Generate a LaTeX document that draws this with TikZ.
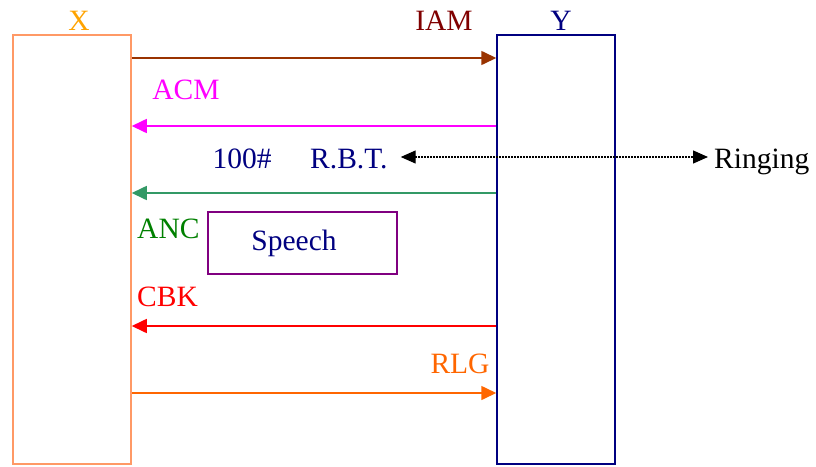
\documentclass[tikz,border=0pt]{standalone}
\usepackage{fontspec}
\setmainfont{Liberation Serif}
\usetikzlibrary{arrows.meta}
\definecolor{xorange}{RGB}{255,163,0}
\definecolor{xbox}{RGB}{255,153,102}
\definecolor{iamtext}{RGB}{128,0,0}
\definecolor{iamarrow}{RGB}{153,51,0}
\definecolor{acm}{RGB}{255,0,255}
\definecolor{navy}{RGB}{0,0,128}
\definecolor{seagreen}{RGB}{51,153,102}
\definecolor{ancgreen}{RGB}{0,128,0}
\definecolor{purp}{RGB}{128,0,128}
\definecolor{rlg}{RGB}{255,102,0}
\tikzset{
  lbl/.style={inner sep=0pt, font=\fontsize{29.5}{34}\selectfont},
  entity/.style={draw, line width=1.5pt, minimum width=118pt, minimum height=429pt, inner sep=0pt},
  msg/.style={line width=1.6pt, -{Triangle[length=15pt,width=14pt]}},
  dotarrow/.style={line width=1.3pt, dash pattern=on 1.3pt off 1.7pt, {Triangle[length=15pt,width=13pt]}-{Triangle[length=15pt,width=13pt]}},
}
\begin{document}
\begin{tikzpicture}[x=1pt,y=-1pt]
\useasboundingbox (0,0) rectangle (816,466);
% entities
\node[entity, xbox] (X) at (72,249.5) {};
\node[entity, navy] (Y) at (556,249.5) {};
\node[lbl, xorange, anchor=base] (Xl) at (79,30) {X};
\node[lbl, navy, anchor=base] (Yl) at (561,30) {Y};
% labels
\node[lbl, iamtext, anchor=base] (IAM) at (444,30) {IAM};
\node[lbl, acm, anchor=base] (ACM) at (186,99) {ACM};
\node[lbl, navy, anchor=base] (hund) at (242,168) {100\#};
\node[lbl, navy, anchor=base west] (RBT) at (310,168) {R.B.T.};
\node[lbl, black, anchor=base west] (Ring) at (714,168) {Ringing};
\node[lbl, ancgreen, anchor=base west] (ANC) at (137,238) {ANC};
\node[draw, purp, line width=1.2pt, minimum width=189pt, minimum height=62pt, inner sep=0pt] (SpBox) at (302.5,243) {};
\node[lbl, navy, anchor=base] (Sp) at (294,250) {Speech};
\node[lbl, red, anchor=base west] (CBK) at (137,306) {CBK};
\node[lbl, rlg, anchor=base] (RLG) at (460,373) {RLG};
% messages
\draw[msg, iamarrow] (X.east |- 0,58) -- (Y.west |- 0,58);
\draw[msg, acm] (Y.west |- 0,126) -- (X.east |- 0,126);
\draw[msg, seagreen] (Y.west |- 0,193) -- (X.east |- 0,193);
\draw[msg, red] (Y.west |- 0,326) -- (X.east |- 0,326);
\draw[msg, rlg] (X.east |- 0,393) -- (Y.west |- 0,393);
\draw[dotarrow] ([xshift=13pt]RBT.east |- 0,157) -- ([xshift=-6pt]Ring.west |- 0,157);
\end{tikzpicture}
\end{document}
